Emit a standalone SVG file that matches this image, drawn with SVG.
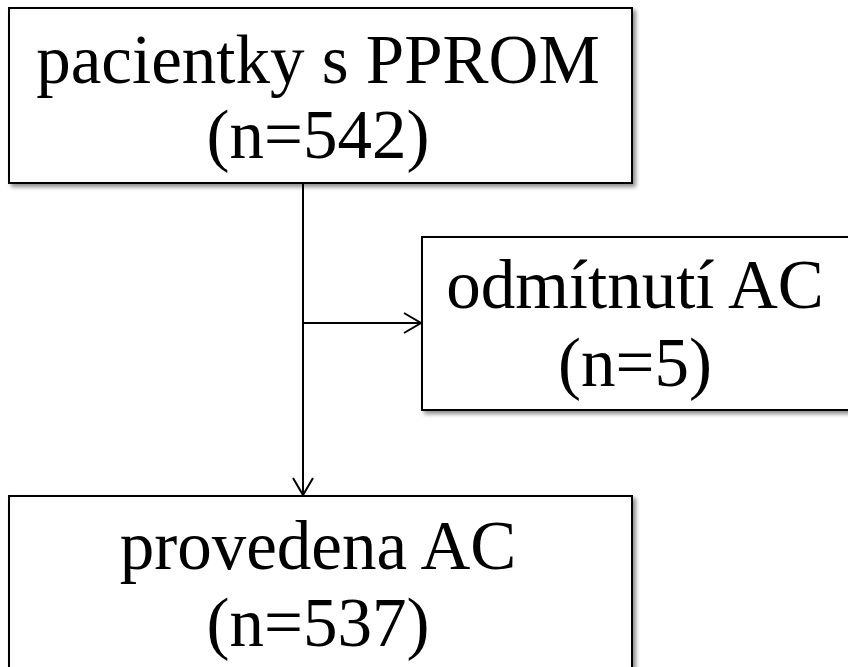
<svg xmlns="http://www.w3.org/2000/svg" width="848" height="667" viewBox="0 0 848 667">
<style>
.box{fill:#fff;stroke:#000;stroke-width:2;filter:url(#sh)}
.t{font-family:"Liberation Serif","Times New Roman",serif;font-size:69px;fill:#000;text-anchor:middle}
.c{stroke:#000;stroke-width:2;fill:none}
</style>
<defs>
<filter id="sh" x="-5%" y="-5%" width="115%" height="115%">
<feDropShadow dx="3" dy="3" stdDeviation="2" flood-color="#000" flood-opacity="0.45"/>
</filter>
<marker id="ar" markerWidth="22" markerHeight="26" refX="19" refY="13" orient="auto" markerUnits="userSpaceOnUse">
<path d="M2,3 L19,13 L2,23" fill="none" stroke="#000" stroke-width="2"/>
</marker>
</defs>
<rect width="848" height="667" fill="#fff"/>
<g id="connectors">
<line class="c" x1="303" y1="183" x2="303" y2="495" marker-end="url(#ar)"/>
<line class="c" x1="303" y1="323" x2="421" y2="323" marker-end="url(#ar)"/>
</g>
<g id="n1">
<rect class="box" x="9" y="8" width="623" height="175"/>
<text class="t" x="318" y="83">pacientky s PPROM</text>
<text class="t" x="318" y="158">(n=542)</text>
</g>
<g id="n2">
<rect class="box" x="422" y="237" width="430" height="173"/>
<text class="t" x="635" y="308">odmítnutí AC</text>
<text class="t" x="635" y="386">(n=5)</text>
</g>
<g id="n3">
<rect class="box" x="9" y="496" width="623" height="180"/>
<text class="t" x="318" y="569">provedena AC</text>
<text class="t" x="318" y="646">(n=537)</text>
</g>
</svg>
